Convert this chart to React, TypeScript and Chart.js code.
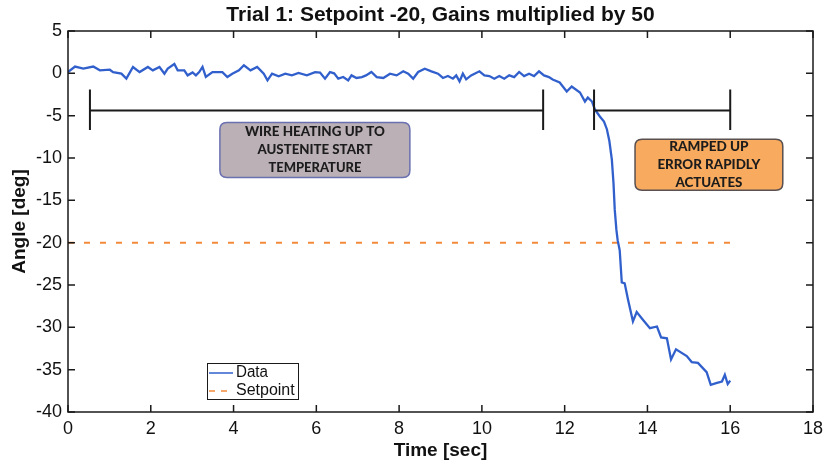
import React, { useEffect, useRef } from "react";
import { Chart, registerables } from "chart.js";

Chart.register(...registerables);

const dataTime: number[] = [
  0, 0.17, 0.37, 0.61, 0.77, 1.01, 1.09, 1.29, 1.41, 1.57, 1.73, 1.93, 2.05, 2.21, 2.33, 2.41, 2.57, 2.65, 2.81, 2.89,
  3.01, 3.09, 3.17, 3.25, 3.33, 3.49, 3.73, 3.85, 3.97, 4.13, 4.25, 4.41, 4.57, 4.73, 4.82, 4.93, 5.09, 5.25, 5.41, 5.57,
  5.77, 5.97, 6.09, 6.21, 6.33, 6.43, 6.53, 6.65, 6.77, 6.85, 6.97, 7.1, 7.2, 7.33, 7.46, 7.62, 7.78, 7.94, 8.1, 8.22,
  8.34, 8.46, 8.62, 8.78, 8.94, 9.06, 9.18, 9.3, 9.38, 9.46, 9.54, 9.62, 9.74, 9.94, 10.06, 10.18, 10.3, 10.42, 10.54, 10.66,
  10.78, 10.9, 11.02, 11.14, 11.26, 11.38, 11.5, 11.62, 11.71, 11.88, 12.05, 12.17, 12.37, 12.49, 12.56, 12.66, 12.73, 12.85, 12.95, 13.02,
  13.08, 13.14, 13.18, 13.21, 13.25, 13.28, 13.33, 13.38, 13.45, 13.53, 13.65, 13.74, 13.89, 14.06, 14.23, 14.33, 14.47, 14.57, 14.69, 14.95,
  15.07, 15.22, 15.43, 15.53, 15.68, 15.8, 15.87, 15.94, 16.0,
];

const dataAngle: number[] = [
  0.15, 0.8, 0.55, 0.8, 0.35, 0.43, 0.15, -0.04, -0.63, 0.75, 0.15, 0.75, 0.35, 0.75, -0.04, 0.55, 1.1, 0.35, 0.35, -0.24,
  0.1, -0.24, 0.15, 0.75, -0.43, 0.15, 0.15, -0.43, -0.04, 0.35, 0.95, 0.35, 0.75, -0.04, -0.83, -0.04, -0.36, -0.04, -0.24, 0.04,
  -0.24, 0.15, 0.1, -0.63, 0.15, 0.0, -0.63, -0.43, -0.83, -0.24, -0.55, -0.44, -0.24, 0.16, -0.44, -0.55, -0.04, -0.24, 0.24, -0.04,
  -0.63, 0.16, 0.55, 0.24, -0.04, -0.55, -0.32, -0.63, -0.24, -0.95, -0.04, -0.71, -0.24, 0.24, -0.24, -0.32, -0.63, -0.32, -0.63, -0.24,
  -0.44, 0.16, -0.32, -0.04, -0.32, 0.24, -0.24, -0.44, -0.73, -1.09, -2.15, -1.56, -2.27, -3.33, -2.86, -3.33, -4.27, -5.1, -5.7, -6.6,
  -8.0, -10.2, -13.0, -16.1, -18.5, -19.7, -20.9, -24.7, -24.8, -26.7, -29.3, -28.2, -29.1, -30.1, -29.9, -31.2, -31.3, -33.8, -32.6, -33.4,
  -34.1, -34.2, -35.3, -36.8, -36.56, -36.4, -35.6, -36.7, -36.3,
];

const setpointTime: number[] = [0, 16];
const setpointAngle: number[] = [-20, -20];

const xTickMin = 0;
const xTickMax = 18;
const xTickStep = 2;
const yTickMin = -40;
const yTickMax = 5;
const yTickStep = 5;

const titleText = "Trial 1: Setpoint -20, Gains multiplied by 50";
const xTitle = "Time [sec]";
const yTitle = "Angle [deg]";
const legendLabels = ["Data", "Setpoint"];
const greyNote = ["WIRE HEATING UP TO", "AUSTENITE START", "TEMPERATURE"];
const orangeNote = ["RAMPED UP", "ERROR RAPIDLY", "ACTUATES"];

const DATA_COLOR = "#3160cc";
const SET_COLOR = "#f28a3c";
const SANS = "'Liberation Sans', Arial, sans-serif";

function roundRect(ctx: CanvasRenderingContext2D, x: number, y: number, w: number, h: number, r: number) {
  ctx.beginPath();
  ctx.moveTo(x + r, y);
  ctx.lineTo(x + w - r, y);
  ctx.quadraticCurveTo(x + w, y, x + w, y + r);
  ctx.lineTo(x + w, y + h - r);
  ctx.quadraticCurveTo(x + w, y + h, x + w - r, y + h);
  ctx.lineTo(x + r, y + h);
  ctx.quadraticCurveTo(x, y + h, x, y + h - r);
  ctx.lineTo(x, y + r);
  ctx.quadraticCurveTo(x, y, x + r, y);
  ctx.closePath();
}

const decorPlugin = {
  id: "decor",
  afterDatasetsDraw(chart: any) {
    const ctx: CanvasRenderingContext2D = chart.ctx;
    const xs = chart.scales.x;
    const ys = chart.scales.y;
    const a = chart.chartArea;
    const X = (v: number) => xs.getPixelForValue(v);
    const Y = (v: number) => ys.getPixelForValue(v);
    ctx.save();

    // brackets
    ctx.strokeStyle = "#1a1a1a";
    ctx.lineWidth = 2;
    const by = Y(-4.4);
    const bt = Y(-1.9);
    const bb = Y(-6.7);
    const brackets = [
      [0.53, 11.48],
      [12.71, 16.0],
    ];
    for (const [x0, x1] of brackets) {
      ctx.beginPath();
      ctx.moveTo(X(x0), by);
      ctx.lineTo(X(x1), by);
      ctx.moveTo(X(x0), bt);
      ctx.lineTo(X(x0), bb);
      ctx.moveTo(X(x1), bt);
      ctx.lineTo(X(x1), bb);
      ctx.stroke();
    }

    // notes
    const drawNote = (x0: number, x1: number, y0: number, y1: number, fill: string, stroke: string, lines: string[], widths: number[]) => {
      const px0 = X(x0), px1 = X(x1), py0 = Y(y0), py1 = Y(y1);
      roundRect(ctx, px0, py0, px1 - px0, py1 - py0, 7);
      ctx.fillStyle = fill;
      ctx.fill();
      ctx.lineWidth = 1.5;
      ctx.strokeStyle = stroke;
      ctx.stroke();
      ctx.fillStyle = "#1c1c1c";
      ctx.font = "900 13.5px Lato, 'Open Sans', sans-serif";
      ctx.textAlign = "center";
      ctx.textBaseline = "middle";
      const cx = (px0 + px1) / 2;
      const cy = (py0 + py1) / 2;
      lines.forEach((t, i) => {
        ctx.fillText(t, cx, cy + (i - 1) * 18, widths[i]);
      });
    };
    drawNote(3.67, 8.26, -5.8, -12.3, "#bbb0b6", "#6a70b0", greyNote, [140, 115, 93]);
    drawNote(13.7, 17.27, -7.8, -13.8, "#f8aa5e", "#5a5050", orangeNote, [81, 103, 67]);

    // legend
    const lx = a.left + 139;
    const ly = a.bottom - 49;
    ctx.fillStyle = "#ffffff";
    ctx.fillRect(lx, ly, 91, 36);
    ctx.strokeStyle = "#1a1a1a";
    ctx.lineWidth = 1;
    ctx.strokeRect(lx + 0.5, ly + 0.5, 91, 36);
    ctx.lineWidth = 1.5;
    ctx.strokeStyle = DATA_COLOR;
    ctx.beginPath();
    ctx.moveTo(lx + 2, ly + 10);
    ctx.lineTo(lx + 26, ly + 10);
    ctx.stroke();
    ctx.strokeStyle = SET_COLOR;
    ctx.setLineDash([6, 6]);
    ctx.beginPath();
    ctx.moveTo(lx + 2, ly + 28);
    ctx.lineTo(lx + 26, ly + 28);
    ctx.stroke();
    ctx.setLineDash([]);
    ctx.fillStyle = "#111";
    ctx.font = `16px ${SANS}`;
    ctx.textAlign = "left";
    ctx.textBaseline = "middle";
    ctx.fillText(legendLabels[0], lx + 29, ly + 10, 32);
    ctx.fillText(legendLabels[1], lx + 29, ly + 28, 60);

    // axes box + inner ticks
    ctx.strokeStyle = "#1a1a1a";
    ctx.lineWidth = 1.5;
    ctx.strokeRect(a.left, a.top, a.right - a.left, a.bottom - a.top);
    ctx.beginPath();
    for (const t of xs.ticks) {
      const px = X(t.value);
      ctx.moveTo(px, a.bottom);
      ctx.lineTo(px, a.bottom - 7);
      ctx.moveTo(px, a.top);
      ctx.lineTo(px, a.top + 7);
    }
    for (const t of ys.ticks) {
      const py = Y(t.value);
      ctx.moveTo(a.left, py);
      ctx.lineTo(a.left + 7, py);
      ctx.moveTo(a.right, py);
      ctx.lineTo(a.right - 7, py);
    }
    ctx.stroke();

    // titles
    ctx.fillStyle = "#111";
    ctx.textAlign = "center";
    ctx.textBaseline = "middle";
    ctx.font = `bold 21px ${SANS}`;
    ctx.fillText(titleText, (a.left + a.right) / 2, 15, 438);
    ctx.font = `bold 19px ${SANS}`;
    ctx.fillText(xTitle, (a.left + a.right) / 2, 451, 96);
    ctx.save();
    ctx.translate(20, (a.top + a.bottom) / 2);
    ctx.rotate(-Math.PI / 2);
    ctx.fillText(yTitle, 0, 0, 110);
    ctx.restore();

    ctx.restore();
  },
};

export default function App() {
  const ref = useRef<HTMLCanvasElement | null>(null);
  useEffect(() => {
    if (!ref.current) return;
    const chart = new Chart(ref.current, {
      type: "line",
      data: {
        datasets: [
          {
            label: legendLabels[0],
            data: dataTime.map((t, i) => ({ x: t, y: dataAngle[i] })),
            borderColor: DATA_COLOR,
            borderWidth: 2.3,
            pointRadius: 0,
            tension: 0,
            fill: false,
          },
          {
            label: legendLabels[1],
            data: setpointTime.map((t, i) => ({ x: t, y: setpointAngle[i] })),
            borderColor: SET_COLOR,
            borderWidth: 2,
            borderDash: [6, 10],
            pointRadius: 0,
            fill: false,
          },
        ],
      },
      options: {
        animation: false,
        responsive: false,
        maintainAspectRatio: false,
        events: [],
        layout: { padding: { top: 31, right: 14, left: 0, bottom: 0 } },
        plugins: {
          legend: { display: false },
          title: { display: false },
          tooltip: { enabled: false },
        },
        scales: {
          x: {
            type: "linear",
            min: xTickMin,
            max: xTickMax,
            ticks: { stepSize: xTickStep, color: "#111", font: { family: SANS, size: 18 }, padding: 6, maxRotation: 0 },
            grid: { display: false, drawTicks: false },
            border: { display: false },
            afterFit: (s: any) => {
              s.height = 53;
              s.paddingRight = 0;
              s.paddingLeft = 0;
            },
          },
          y: {
            type: "linear",
            min: yTickMin,
            max: yTickMax,
            ticks: { stepSize: yTickStep, color: "#111", font: { family: SANS, size: 18 }, padding: 6 },
            grid: { display: false, drawTicks: false },
            border: { display: false },
            afterFit: (s: any) => {
              s.width = 68;
            },
          },
        },
      },
      plugins: [decorPlugin],
    });
    return () => chart.destroy();
  }, []);
  return (
    <div style={{ position: "fixed", left: 0, top: 0, width: 827, height: 465, background: "#fff" }}>
      <canvas ref={ref} width={827} height={465} style={{ width: 827, height: 465 }} />
    </div>
  );
}
